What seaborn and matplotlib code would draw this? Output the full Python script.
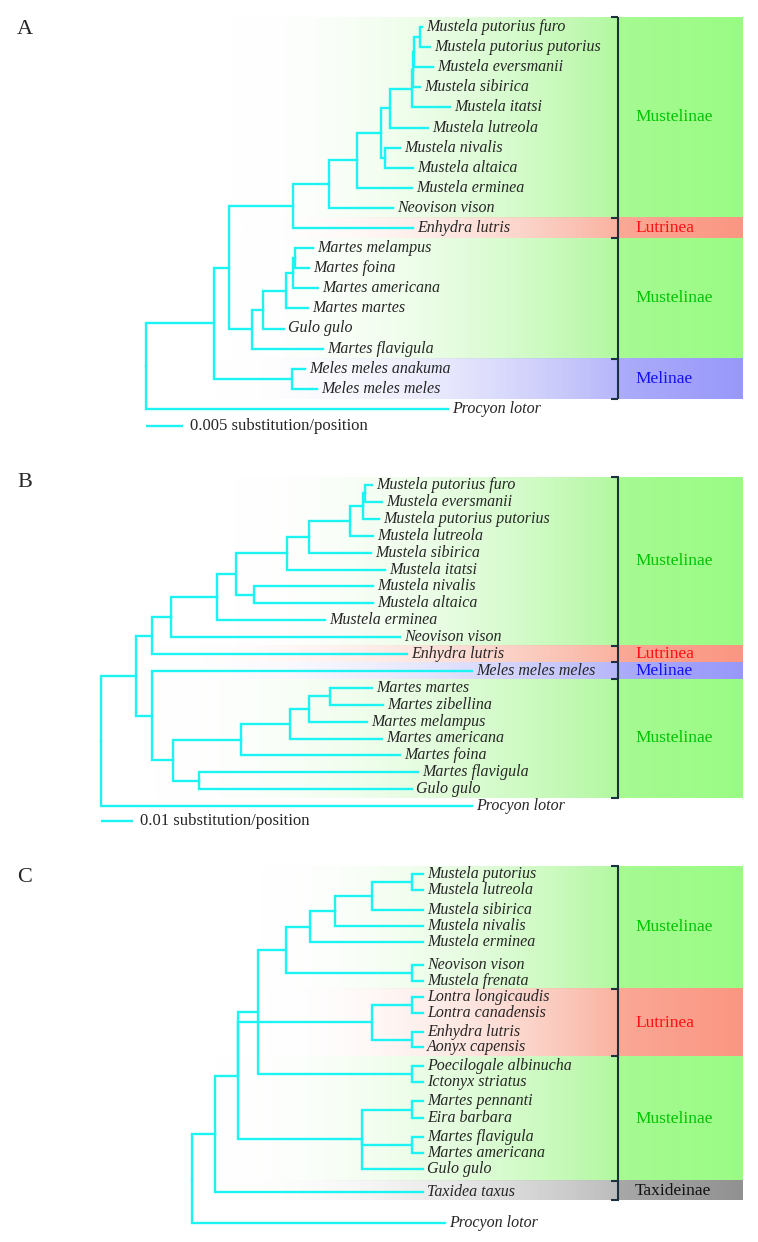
import numpy as np
import pandas as pd
import matplotlib
matplotlib.use("Agg")
import matplotlib.pyplot as plt
import seaborn as sns

# ---------------- panel A (0.005 substitution/position) ----------------
tips_a = ["Mustela putorius furo", "Mustela putorius putorius", "Mustela eversmanii",
          "Mustela sibirica", "Mustela itatsi", "Mustela lutreola", "Mustela nivalis",
          "Mustela altaica", "Mustela erminea", "Neovison vison", "Enhydra lutris",
          "Martes melampus", "Martes foina", "Martes americana", "Martes martes",
          "Gulo gulo", "Martes flavigula", "Meles meles anakuma", "Meles meles meles",
          "Procyon lotor"]
depth_a = [0.0373, 0.0384, 0.0388, 0.0370, 0.0411, 0.0381, 0.0343, 0.0361, 0.0359, 0.0334,
           0.0361, 0.0226, 0.0220, 0.0232, 0.0219, 0.0186, 0.0239, 0.0215, 0.0231, 0.0408]
nodes_a = [
    ("a0", 0.0, ["a1", "Procyon lotor"]),
    ("a1", 0.0092, ["a2", "a20"]),
    ("a2", 0.0112, ["a3", "a15"]),
    ("a3", 0.0199, ["a4", "Enhydra lutris"]),
    ("a4", 0.0247, ["a5", "Neovison vison"]),
    ("a5", 0.0285, ["a6", "Mustela erminea"]),
    ("a6", 0.0318, ["a7", "a14"]),
    ("a7", 0.0330, ["a8", "Mustela lutreola"]),
    ("a8", 0.0359, ["a9", "Mustela itatsi"]),
    ("a9", 0.0361, ["a10", "Mustela sibirica"]),
    ("a10", 0.0362, ["a11", "Mustela eversmanii"]),
    ("a11", 0.0370, ["Mustela putorius furo", "Mustela putorius putorius"]),
    ("a14", 0.0323, ["Mustela nivalis", "Mustela altaica"]),
    ("a15", 0.0143, ["a16", "Martes flavigula"]),
    ("a16", 0.0158, ["a17", "Gulo gulo"]),
    ("a17", 0.0189, ["a18", "Martes martes"]),
    ("a18", 0.0199, ["a19", "Martes americana"]),
    ("a19", 0.0201, ["Martes melampus", "Martes foina"]),
    ("a20", 0.0197, ["Meles meles anakuma", "Meles meles meles"]),
]
groups_a = [("Mustelinae", 0, 9), ("Lutrinea", 10, 10), ("Mustelinae", 11, 16), ("Melinae", 17, 18)]

# ---------------- panel B (0.01 substitution/position) ----------------
tips_b = ["Mustela putorius furo", "Mustela eversmanii", "Mustela putorius putorius",
          "Mustela lutreola", "Mustela sibirica", "Mustela itatsi", "Mustela nivalis",
          "Mustela altaica", "Mustela erminea", "Neovison vison", "Enhydra lutris",
          "Meles meles meles", "Martes martes", "Martes zibellina", "Martes melampus",
          "Martes americana", "Martes foina", "Martes flavigula", "Gulo gulo", "Procyon lotor"]
depth_b = [0.0847, 0.0878, 0.0869, 0.0850, 0.0844, 0.0888, 0.0850, 0.0850, 0.0700, 0.0934,
           0.0956, 0.1159, 0.0847, 0.0881, 0.0831, 0.0878, 0.0934, 0.0991, 0.0972, 0.1159]
nodes_b = [
    ("b0", 0.0, ["b1", "Procyon lotor"]),
    ("b1", 0.0109, ["b2", "b12"]),
    ("b2", 0.0159, ["b3", "Enhydra lutris"]),
    ("b3", 0.0219, ["b4", "Neovison vison"]),
    ("b4", 0.0363, ["b5", "Mustela erminea"]),
    ("b5", 0.0422, ["b6", "b11"]),
    ("b6", 0.0581, ["b7", "Mustela itatsi"]),
    ("b7", 0.0650, ["b8", "Mustela sibirica"]),
    ("b8", 0.0778, ["b9", "Mustela lutreola"]),
    ("b9", 0.0819, ["b10", "Mustela putorius putorius"]),
    ("b10", 0.0825, ["Mustela putorius furo", "Mustela eversmanii"]),
    ("b11", 0.0478, ["Mustela nivalis", "Mustela altaica"]),
    ("b12", 0.0159, ["Meles meles meles", "b13"]),
    ("b13", 0.0225, ["b14", "b18"]),
    ("b14", 0.0438, ["b15", "Martes foina"]),
    ("b15", 0.0591, ["b16", "Martes americana"]),
    ("b16", 0.0650, ["b17", "Martes melampus"]),
    ("b17", 0.0716, ["Martes martes", "Martes zibellina"]),
    ("b18", 0.0306, ["Martes flavigula", "Gulo gulo"]),
]
groups_b = [("Mustelinae", 0, 9), ("Lutrinea", 10, 10), ("Melinae", 11, 11), ("Mustelinae", 12, 18)]

# ---------------- panel C (cladogram) ----------------
tips_c = ["Mustela putorius", "Mustela lutreola", "Mustela sibirica", "Mustela nivalis",
          "Mustela erminea", "Neovison vison", "Mustela frenata", "Lontra longicaudis",
          "Lontra canadensis", "Enhydra lutris", "Aonyx capensis", "Poecilogale albinucha",
          "Ictonyx striatus", "Martes pennanti", "Eira barbara", "Martes flavigula",
          "Martes americana", "Gulo gulo", "Taxidea taxus", "Procyon lotor"]
row_c = [0, 1, 2.2, 3.2, 4.15, 5.55, 6.5, 7.5, 8.5, 9.65,
         10.55, 11.7, 12.7, 13.85, 14.9, 16.05, 17.0, 18.0, 19.4, 21.3]
depth_c = [0.231, 0.231, 0.231, 0.231, 0.231, 0.231, 0.231, 0.231, 0.231, 0.231,
           0.231, 0.231, 0.231, 0.231, 0.231, 0.231, 0.231, 0.231, 0.231, 0.253]
nodes_c = [
    ("c0", 0.0, ["c1", "Procyon lotor"]),
    ("c1", 0.023, ["c2", "Taxidea taxus"]),
    ("c2", 0.046, ["c3", "c10", "c14"]),
    ("c3", 0.066, ["c4", "c13"]),
    ("c4", 0.094, ["c5", "c9"]),
    ("c5", 0.118, ["c6", "Mustela erminea"]),
    ("c6", 0.143, ["c7", "Mustela nivalis"]),
    ("c7", 0.180, ["c8", "Mustela sibirica"]),
    ("c8", 0.220, ["Mustela putorius", "Mustela lutreola"]),
    ("c9", 0.220, ["Neovison vison", "Mustela frenata"]),
    ("c10", 0.180, ["c11", "c12"]),
    ("c11", 0.220, ["Lontra longicaudis", "Lontra canadensis"]),
    ("c12", 0.220, ["Enhydra lutris", "Aonyx capensis"]),
    ("c13", 0.220, ["Poecilogale albinucha", "Ictonyx striatus"]),
    ("c14", 0.170, ["c15", "c16", "Gulo gulo"]),
    ("c15", 0.220, ["Martes pennanti", "Eira barbara"]),
    ("c16", 0.220, ["Martes flavigula", "Martes americana"]),
]
groups_c = [("Mustelinae", 0, 6), ("Lutrinea", 7, 10), ("Mustelinae", 11, 17), ("Taxideinae", 18, 18)]

# ---------------- styling ----------------
sns.set_style("white")
plt.rcParams["font.family"] = ["Liberation Serif", "DejaVu Serif"]

W, H = 758, 1242
CYAN = "#1cf4f4"
BRACKET = "#1b3140"
band_end = {"Mustelinae": (178, 248, 160), "Lutrinea": (250, 178, 160),
            "Melinae": (182, 182, 250), "Taxideinae": (188, 188, 188)}
box_left = {"Mustelinae": (166, 250, 146), "Lutrinea": (250, 168, 150),
            "Melinae": (172, 172, 250), "Taxideinae": (168, 168, 168)}
box_right = {"Mustelinae": (154, 252, 132), "Lutrinea": (250, 150, 130),
             "Melinae": (152, 152, 250), "Taxideinae": (145, 145, 145)}
label_col = {"Mustelinae": "#00c400", "Lutrinea": "#ff1010",
             "Melinae": "#1010f0", "Taxideinae": "#111111"}


def tree_frame(tips, depths, rows, nodes):
    x = dict(zip(tips, depths))
    y = dict(zip(tips, rows))
    kids = {}
    for name, d, ch in nodes:
        x[name] = d
        kids[name] = ch

    def place(n):
        if n not in y:
            ys = [place(c) for c in kids[n]]
            y[n] = (min(ys) + max(ys)) / 2
        return y[n]

    place(nodes[0][0])
    recs = []
    for name, d, ch in nodes:
        for c in ch:
            e = name + ">" + c
            recs += [(e, x[name], y[name]), (e, x[name], y[c]), (e, x[c], y[c])]
    return pd.DataFrame(recs, columns=["edge", "x", "y"])


def gradient(ax, x1, x2, yt, yb, c1, c2, a1, a2):
    n = 400
    t = np.linspace(0, 1, n)
    img = np.zeros((2, n, 4))
    for j in range(3):
        img[..., j] = (c1[j] + (c2[j] - c1[j]) * t) / 255
    img[..., 3] = a1 + (a2 - a1) * t
    ax.imshow(img, extent=(x1, x2, yb, yt), aspect="auto",
              interpolation="nearest", zorder=0)


fig = plt.figure(figsize=(W / 100, H / 100), dpi=100)


def draw_panel(top, bot, x0, k, y0, dy, tips, depths, rows, nodes, groups, fades,
               letter, letter_base, scale=None):
    ax = fig.add_axes([0, 1 - bot / H, 1, (bot - top) / H])

    def px(p):
        return (p - x0) / k

    # coloured clade bands + label boxes + bracket
    edges = []
    for gi, (name, i0, i1) in enumerate(groups):
        yt = rows[i0] - 0.5 if gi == 0 else (rows[groups[gi - 1][2]] + rows[i0]) / 2
        yb = rows[i1] + 0.5 if gi == len(groups) - 1 else (rows[i1] + rows[groups[gi + 1][1]]) / 2
        gradient(ax, px(fades[gi]), px(618), yt, yb, (255, 255, 255), band_end[name], 0.0, 1.0)
        gradient(ax, px(619), px(743), yt, yb, box_left[name], box_right[name], 1.0, 1.0)
        ax.text(px(635), (yt + yb) / 2, name, color=label_col[name], fontsize=12.5,
                va="center", ha="left", zorder=3)
        edges += [yt, yb]
    ax.plot([px(618), px(618)], [edges[0], edges[-1]], color=BRACKET, lw=1.5, zorder=2,
            solid_capstyle="butt")
    for e in sorted(set(np.round(edges, 6))):
        ax.plot([px(611), px(618.5)], [e, e], color=BRACKET, lw=1.5, zorder=2,
                solid_capstyle="butt")

    # tree
    df = tree_frame(tips, depths, rows, nodes)
    sns.lineplot(data=df, x="x", y="y", units="edge", estimator=None, sort=False,
                 color=CYAN, lw=1.7, ax=ax, legend=False, zorder=2,
                 solid_joinstyle="miter", solid_capstyle="projecting")
    for name, d, r in zip(tips, depths, rows):
        ax.annotate(name, (d, r), xytext=(3, 0), textcoords="offset points",
                    va="center", ha="left", fontsize=11.5, fontstyle="italic", zorder=3)

    if scale is not None:
        val, txt = scale
        yr = rows[-1] + 0.87
        ax.plot([0, val], [yr, yr], color=CYAN, lw=1.7, solid_capstyle="butt")
        ax.annotate(txt, (val, yr), xytext=(5, 0), textcoords="offset points",
                    va="center", ha="left", fontsize=12)

    fig.text(17 / W, 1 - letter_base / H, letter, fontsize=16, va="baseline", ha="left")
    ax.set_xlim(px(0), px(W))
    ax.set_ylim((bot - y0) / dy, (top - y0) / dy)
    ax.axis("off")
    return ax


draw_panel(0, 440, 146, 7400, 27, 20.1, tips_a, depth_a, list(range(len(tips_a))), nodes_a,
           groups_a, [230, 240, 230, 215], "A", 34, (0.005, "0.005 substitution/position"))
draw_panel(440, 845, 101, 3200, 485, 16.9, tips_b, depth_b, list(range(len(tips_b))), nodes_b,
           groups_b, [233, 150, 153, 153], "B", 487, (0.01, "0.01 substitution/position"))
draw_panel(845, 1242, 192, 1000, 874, 16.4, tips_c, depth_c, row_c, nodes_c,
           groups_c, [260, 265, 215, 215], "C", 882)

plt.savefig("out.png", dpi=100, facecolor="white")
